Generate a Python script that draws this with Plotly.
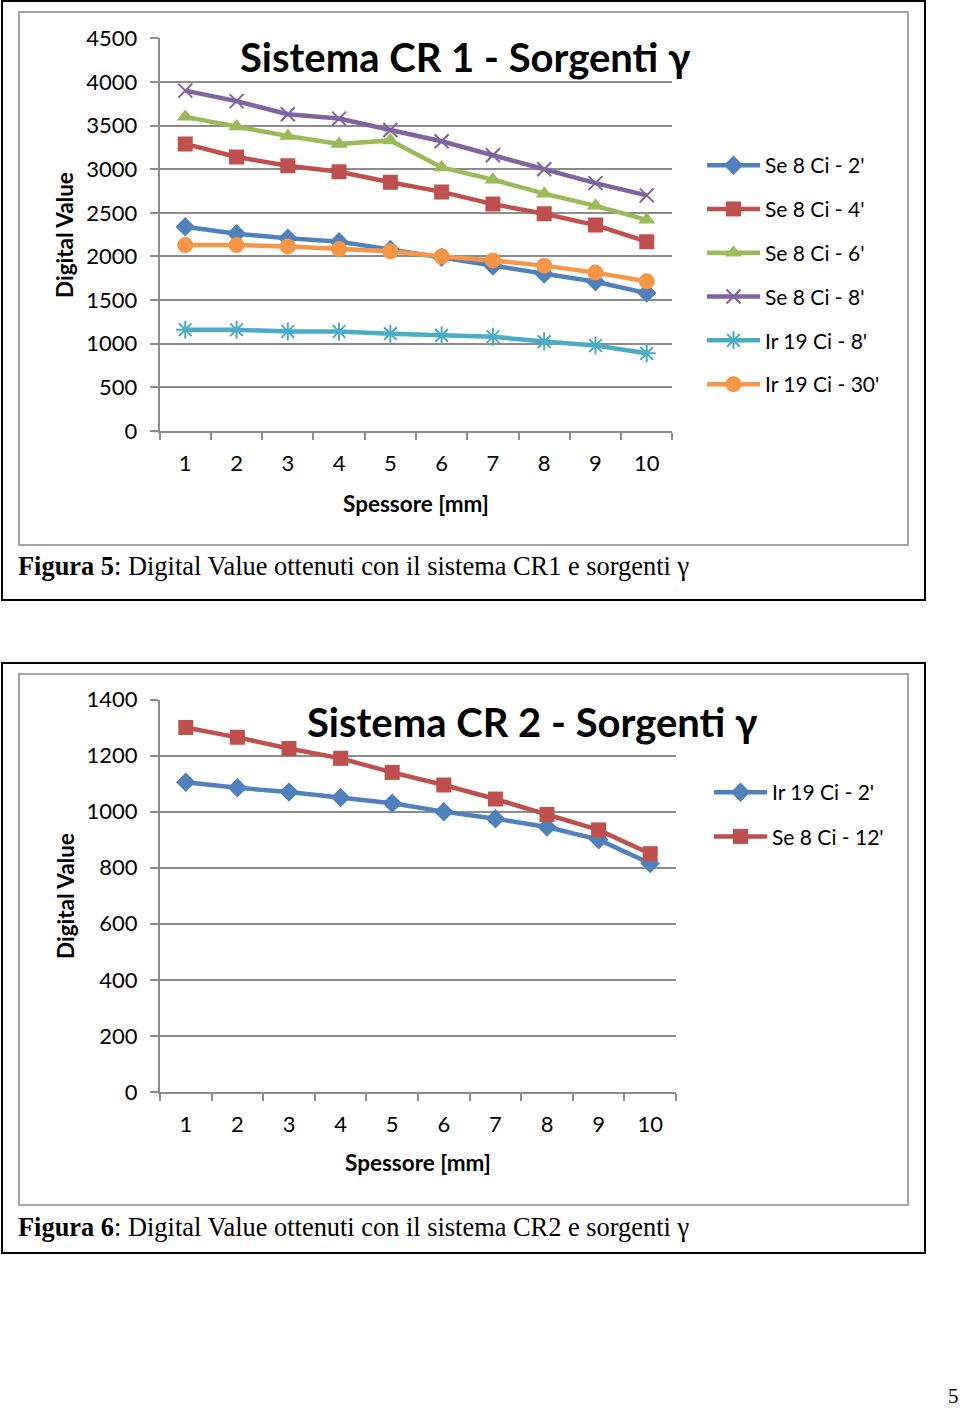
import plotly.graph_objects as go

# ---------------- data ----------------
spessore = [1, 2, 3, 4, 5, 6, 7, 8, 9, 10]
tick_labels = ["1", "2", "3", "4", "5", "6", "7", "8", "9", "10"]

# Sistema CR 1 - Sorgenti gamma
cr1_names = ["Se 8 Ci - 2'", "Se 8 Ci - 4'", "Se 8 Ci - 6'", "Se 8 Ci - 8'", "Ir 19 Ci - 8'", "Ir 19 Ci - 30'"]
se8_2 = [2340, 2260, 2210, 2170, 2080, 1990, 1890, 1800, 1710, 1580]
se8_4 = [3290, 3140, 3040, 2970, 2850, 2740, 2600, 2490, 2360, 2170]
se8_6 = [3600, 3490, 3380, 3290, 3330, 3020, 2880, 2720, 2580, 2420]
se8_8 = [3900, 3780, 3630, 3580, 3450, 3320, 3160, 3000, 2840, 2700]
ir19_8 = [1160, 1160, 1140, 1140, 1115, 1095, 1080, 1025, 980, 890]
ir19_30 = [2130, 2130, 2115, 2085, 2060, 2000, 1955, 1895, 1815, 1715]

# Sistema CR 2 - Sorgenti gamma
cr2_names = ["Ir 19 Ci - 2'", "Se 8 Ci - 12'"]
ir19_2 = [1105, 1085, 1070, 1050, 1030, 1000, 975, 945, 900, 815]
se8_12 = [1300, 1265, 1225, 1190, 1140, 1095, 1045, 990, 935, 850]

# ---------------- styles ----------------
W, H = 960, 1408
BLUE, RED, GREEN, PURPLE, TEAL, ORANGE = "#4F81BD", "#C0504D", "#9BBB59", "#8064A2", "#4BACC6", "#F79646"
GRID = "#8c8c8c"
FONT = "Lato"
SERIF = "Liberation Serif"


def px(x):
    return x / W


def py(y):
    return 1 - y / H


def style(color, symbol, size, open_line=False):
    if open_line:
        marker = dict(symbol=symbol, size=size, color=color, line=dict(color=color, width=2))
    else:
        marker = dict(symbol=symbol, size=size, color=color, line=dict(width=0))
    return dict(mode="lines+markers", line=dict(color=color, width=4.5), marker=marker)


fig = go.Figure()

cr1_data = [se8_2, se8_4, se8_6, se8_8, ir19_8, ir19_30]
cr1_styles = [
    style(BLUE, "diamond", 15),
    style(RED, "square", 15),
    style(GREEN, "triangle-up", 15),
    style(PURPLE, "x-thin-open", 14, True),
    style(TEAL, "asterisk-open", 15, True),
    style(ORANGE, "circle", 16),
]
for i, (name, vals, st) in enumerate(zip(cr1_names, cr1_data, cr1_styles)):
    fig.add_trace(go.Scatter(x=spessore, y=vals, name=name, xaxis="x", yaxis="y",
                             legend="legend", legendgroup="a%d" % i, **st))

cr2_data = [ir19_2, se8_12]
cr2_styles = [style(BLUE, "diamond", 15), style(RED, "square", 15)]
for i, (name, vals, st) in enumerate(zip(cr2_names, cr2_data, cr2_styles)):
    fig.add_trace(go.Scatter(x=spessore, y=vals, name=name, xaxis="x2", yaxis="y2",
                             legend="legend2", legendgroup="b%d" % i, **st))


def xaxis(domain, anchor):
    return dict(domain=domain, anchor=anchor, range=[0.5, 10.5], tickmode="array",
                tickvals=spessore, ticktext=tick_labels, ticks="", showgrid=False,
                showline=True, linecolor=GRID, linewidth=2, zeroline=False,
                tickfont=dict(family=FONT, size=22, color="black"), ticklabelstandoff=12,
                minor=dict(ticks="outside", tick0=0.5, dtick=1, ticklen=7, tickcolor=GRID,
                           tickwidth=2, showgrid=False),
                automargin=False, fixedrange=True)


def yaxis(domain, anchor, rng, dtick):
    return dict(domain=domain, anchor=anchor, range=rng, dtick=dtick, tick0=0,
                showgrid=True, gridcolor=GRID, gridwidth=2, showline=True, linecolor=GRID,
                linewidth=2, zeroline=False, ticks="outside", ticklen=8, tickcolor=GRID,
                tickwidth=2, tickfont=dict(family=FONT, size=22, color="black"),
                ticklabelstandoff=8, automargin=False, fixedrange=True)


shapes = []
# outer black frames and inner grey chart-area frames
for (x0, y0, x1, y1, col) in [(2, 1, 925, 600, "black"), (19, 12, 908, 545, "#a6a6a6"),
                              (2, 663, 925, 1253, "black"), (19, 674, 908, 1205, "#a6a6a6")]:
    shapes.append(dict(type="rect", xref="paper", yref="paper", x0=px(x0), x1=px(x1),
                       y0=py(y1), y1=py(y0), line=dict(color=col, width=2), layer="below"))

annotations = []


def ann(text, x, y, size, family=FONT, bold=False, xanchor="center", angle=0, color="black"):
    annotations.append(dict(text=("<b>%s</b>" % text) if bold else text, x=px(x), y=py(y),
                            xref="paper", yref="paper", showarrow=False, xanchor=xanchor,
                            yanchor="middle", textangle=angle,
                            font=dict(family=family, size=size, color=color)))


ann("Sistema CR 1 - Sorgenti γ", 465, 57, 40, bold=True)
ann("Sistema CR 2 - Sorgenti γ", 532, 722, 40, bold=True)
ann("Digital Value", 65, 235, 22.5, bold=True, angle=-90)
ann("Digital Value", 65, 896, 22.5, bold=True, angle=-90)
ann("Spessore [mm]", 416, 504, 22.5, bold=True)
ann("Spessore [mm]", 418, 1162, 22.5, bold=True)
ann("<b>Figura 5</b>: Digital Value ottenuti con il sistema CR1 e sorgenti γ", 16, 566, 26.4,
    family=SERIF, xanchor="left")
ann("<b>Figura 6</b>: Digital Value ottenuti con il sistema CR2 e sorgenti γ", 16, 1227, 26.4,
    family=SERIF, xanchor="left")
ann("5", 953, 1396, 21, family=SERIF)

fig.update_layout(
    width=W, height=H, margin=dict(l=0, r=0, t=0, b=0, pad=0, autoexpand=False),
    paper_bgcolor="white", plot_bgcolor="white", showlegend=True,
    xaxis=xaxis([px(159.6), px(672.4)], "y"),
    yaxis=yaxis([py(431), py(38.3)], "x", [0, 4500], 500),
    xaxis2=xaxis([px(160), px(676)], "y2"),
    yaxis2=yaxis([py(1092), py(699.5)], "x2", [0, 1400], 200),
    legend=dict(x=px(702), y=py(145), xanchor="left", yanchor="top", traceorder="grouped",
                tracegroupgap=13.5, font=dict(family=FONT, size=21, color="black"),
                bgcolor="rgba(0,0,0,0)", itemwidth=53),
    legend2=dict(x=px(709), y=py(772), xanchor="left", yanchor="top", traceorder="grouped",
                 tracegroupgap=14, font=dict(family=FONT, size=21, color="black"),
                 bgcolor="rgba(0,0,0,0)", itemwidth=53),
    shapes=shapes, annotations=annotations,
)

fig.write_html("out.html", config={"displayModeBar": False},
               post_script="document.body.style.margin='0';document.body.style.overflow='hidden';")
